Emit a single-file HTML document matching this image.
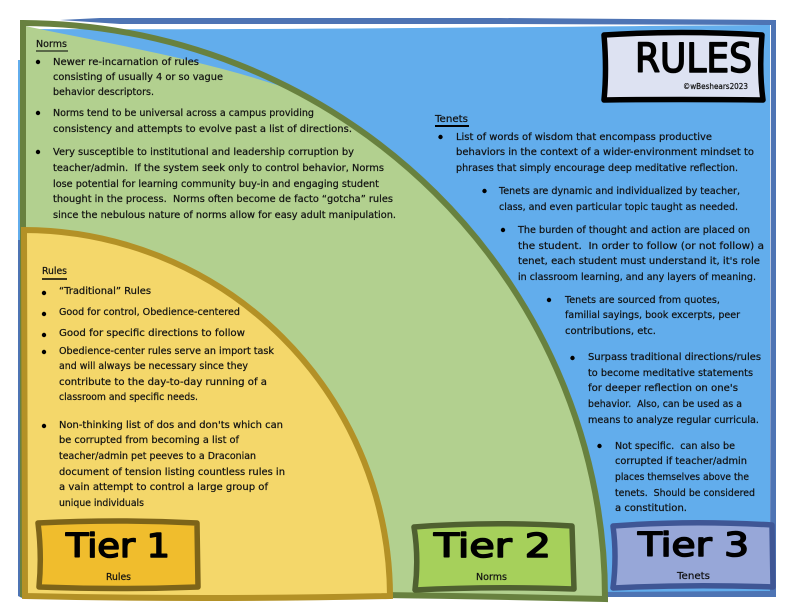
<!DOCTYPE html>
<html><head><meta charset="utf-8"><style>
html,body{margin:0;padding:0;background:#fff;width:792px;height:612px;overflow:hidden}
svg{display:block}
.t{font-family:"DejaVu Sans",sans-serif;font-size:10px;fill:#111;stroke:#111;stroke-width:.22px}
.h{font-family:"DejaVu Sans",sans-serif;fill:#000;stroke:#000;stroke-width:1.6px;stroke-linejoin:round}
</style></head><body>
<svg width="792" height="612" viewBox="0 0 792 612" xmlns="http://www.w3.org/2000/svg">
<!-- blue frame -->
<path d="M24 29 C300 30 500 27 770 25 L770 592 L22 592 Z" fill="#62adec"/>
<path d="M60 20 L100 18 L500 18 L776 20 L776 597 L600 597 L600 592 L770 591 L771 25 L500 24 L120 24 Z" fill="#4e74b4"/>
<path d="M18 240 L22 240 L23 592 L150 594 L600 592 L600 597 L22 598 L18 596 Z" fill="#4e74b4"/>
<path d="M18 60 L23 60 L23 240 L18 240 Z" fill="#62adec"/>
<!-- green -->
<path d="M25 26 C100 42 210 60 300 93 A585 575 0 0 1 510 281 Q552 340 578 420 A585 575 0 0 1 603 598 L24 594 Z" fill="#b2d08f"/>
<path d="M23 23 A585 575 0 0 1 605 599 Q300 592 23 594 Z" fill="none" stroke="#68813f" stroke-width="6" stroke-linejoin="miter"/>
<!-- yellow -->
<path d="M24 230 A367 367 0 0 1 390 596 Q200 600 25 596 Z" fill="#f4d76a" stroke="#b39126" stroke-width="6" stroke-linejoin="miter"/>
<!-- rules box -->
<path d="M604 35 Q680 30 762 35 Q759 70 763 100 Q680 99 604 100 Q607 70 604 35 Z" fill="#dde2f2" stroke="#000" stroke-width="5.5" stroke-linejoin="round"/>
<text class="h" x="635" y="72" font-size="40" textLength="117" lengthAdjust="spacingAndGlyphs">RULES</text>
<text class="t" x="683" y="89" style="font-size:7.5px" textLength="65" lengthAdjust="spacingAndGlyphs">©wBeshears2023</text>
<!-- tier boxes -->
<path d="M38 523 Q118 519 197 523 L198 587 Q120 590 39 587 Q42 555 38 523 Z" fill="#f0bd2d" stroke="#7d6419" stroke-width="5.5" stroke-linejoin="round"/>
<text class="h" x="66" y="557" font-size="33" textLength="104" lengthAdjust="spacingAndGlyphs">Tier 1</text>
<text class="t" x="106" y="580" textLength="25" lengthAdjust="spacingAndGlyphs">Rules</text>
<path d="M414 527 Q490 521 572 526 L574 589 Q490 586 415 590 Q419 558 414 527 Z" fill="#a6d05b" stroke="#4f6030" stroke-width="5.5" stroke-linejoin="round"/>
<text class="h" x="434" y="557" font-size="33" textLength="117" lengthAdjust="spacingAndGlyphs">Tier 2</text>
<text class="t" x="476" y="580" textLength="31" lengthAdjust="spacingAndGlyphs">Norms</text>
<path d="M613 526 Q690 520 772 525 L773 587 Q690 584 613 588 Q617 556 613 526 Z" fill="#97a7d8" stroke="#3f5695" stroke-width="5.5" stroke-linejoin="round"/>
<text class="h" x="638" y="556" font-size="33" textLength="111" lengthAdjust="spacingAndGlyphs">Tier 3</text>
<text class="t" x="677" y="579" textLength="33" lengthAdjust="spacingAndGlyphs">Tenets</text>
<!-- underlines -->
<g stroke="#000"><line x1="36" y1="51" x2="68" y2="51" stroke-width="1"/><line x1="435" y1="126" x2="469" y2="126" stroke-width="2"/><line x1="42" y1="279" x2="67" y2="279" stroke-width="1.5"/></g>
<!-- bullets -->
<g fill="#000">
<circle cx="38" cy="62" r="2.2"/><circle cx="38" cy="113" r="2.2"/><circle cx="38" cy="152" r="2.2"/>
<circle cx="440.5" cy="137" r="2.2"/><circle cx="484.5" cy="191" r="2.2"/><circle cx="503" cy="230" r="2.2"/><circle cx="549" cy="300" r="2.2"/><circle cx="572.5" cy="358" r="2.2"/><circle cx="599.5" cy="446" r="2.2"/>
<circle cx="44" cy="293" r="2.2"/><circle cx="44" cy="314" r="2.2"/><circle cx="44" cy="335" r="2.2"/><circle cx="44" cy="352" r="2.2"/><circle cx="44" cy="426" r="2.2"/>
</g>
<g class="t">
<text x="36" y="47" textLength="31" lengthAdjust="spacingAndGlyphs">Norms</text>
<text x="53" y="65" textLength="146" lengthAdjust="spacingAndGlyphs">Newer re-incarnation of rules</text>
<text x="53" y="80" textLength="170" lengthAdjust="spacingAndGlyphs">consisting of usually 4 or so vague</text>
<text x="53" y="95" textLength="101" lengthAdjust="spacingAndGlyphs">behavior descriptors.</text>
<text x="53" y="116" textLength="261" lengthAdjust="spacingAndGlyphs">Norms tend to be universal across a campus providing</text>
<text x="53" y="132" textLength="299" lengthAdjust="spacingAndGlyphs">consistency and attempts to evolve past a list of directions.</text>
<text x="53" y="155" textLength="301" lengthAdjust="spacingAndGlyphs">Very susceptible to institutional and leadership corruption by</text>
<text x="53" y="171" textLength="331" lengthAdjust="spacingAndGlyphs" xml:space="preserve">teacher/admin.  If the system seek only to control behavior, Norms</text>
<text x="53" y="187" textLength="326" lengthAdjust="spacingAndGlyphs">lose potential for learning community buy-in and engaging student</text>
<text x="53" y="202" textLength="340" lengthAdjust="spacingAndGlyphs" xml:space="preserve">thought in the process.  Norms often become de facto “gotcha” rules</text>
<text x="53" y="218" textLength="343" lengthAdjust="spacingAndGlyphs">since the nebulous nature of norms allow for easy adult manipulation.</text>

<text x="435" y="122" textLength="33" lengthAdjust="spacingAndGlyphs">Tenets</text>
<text x="456" y="140" textLength="256" lengthAdjust="spacingAndGlyphs">List of words of wisdom that encompass productive</text>
<text x="456" y="155" textLength="298" lengthAdjust="spacingAndGlyphs">behaviors in the context of a wider-environment mindset to</text>
<text x="456" y="171" textLength="282" lengthAdjust="spacingAndGlyphs">phrases that simply encourage deep meditative reflection.</text>
<text x="499" y="194" textLength="241" lengthAdjust="spacingAndGlyphs">Tenets are dynamic and individualized by teacher,</text>
<text x="499" y="210" textLength="239" lengthAdjust="spacingAndGlyphs">class, and even particular topic taught as needed.</text>
<text x="518" y="233" textLength="232" lengthAdjust="spacingAndGlyphs">The burden of thought and action are placed on</text>
<text x="518" y="249" textLength="246" lengthAdjust="spacingAndGlyphs" xml:space="preserve">the student.  In order to follow (or not follow) a</text>
<text x="518" y="264" textLength="242" lengthAdjust="spacingAndGlyphs">tenet, each student must understand it, it's role</text>
<text x="518" y="280" textLength="238" lengthAdjust="spacingAndGlyphs">in classroom learning, and any layers of meaning.</text>
<text x="565" y="303" textLength="155" lengthAdjust="spacingAndGlyphs">Tenets are sourced from quotes,</text>
<text x="565" y="318" textLength="175" lengthAdjust="spacingAndGlyphs">familial sayings, book excerpts, peer</text>
<text x="565" y="334" textLength="91" lengthAdjust="spacingAndGlyphs">contributions, etc.</text>
<text x="588" y="360" textLength="173" lengthAdjust="spacingAndGlyphs">Surpass traditional directions/rules</text>
<text x="588" y="376" textLength="165" lengthAdjust="spacingAndGlyphs">to become meditative statements</text>
<text x="588" y="391" textLength="150" lengthAdjust="spacingAndGlyphs">for deeper reflection on one's</text>
<text x="588" y="407" textLength="154" lengthAdjust="spacingAndGlyphs" xml:space="preserve">behavior.  Also, can be used as a</text>
<text x="588" y="423" textLength="171" lengthAdjust="spacingAndGlyphs">means to analyze regular curricula.</text>
<text x="615" y="449" textLength="120" lengthAdjust="spacingAndGlyphs" xml:space="preserve">Not specific.  can also be</text>
<text x="615" y="464" textLength="132" lengthAdjust="spacingAndGlyphs">corrupted if teacher/admin</text>
<text x="615" y="480" textLength="134" lengthAdjust="spacingAndGlyphs">places themselves above the</text>
<text x="615" y="496" textLength="140" lengthAdjust="spacingAndGlyphs" xml:space="preserve">tenets.  Should be considered</text>
<text x="615" y="511" textLength="72" lengthAdjust="spacingAndGlyphs">a constitution.</text>

<text x="42" y="274" textLength="25" lengthAdjust="spacingAndGlyphs">Rules</text>
<text x="59" y="294" textLength="92" lengthAdjust="spacingAndGlyphs">“Traditional” Rules</text>
<text x="59" y="315" textLength="181" lengthAdjust="spacingAndGlyphs">Good for control, Obedience-centered</text>
<text x="59" y="336" textLength="186" lengthAdjust="spacingAndGlyphs">Good for specific directions to follow</text>
<text x="59" y="354" textLength="215" lengthAdjust="spacingAndGlyphs">Obedience-center rules serve an import task</text>
<text x="59" y="369" textLength="189" lengthAdjust="spacingAndGlyphs">and will always be necessary since they</text>
<text x="59" y="385" textLength="208" lengthAdjust="spacingAndGlyphs">contribute to the day-to-day running of a</text>
<text x="59" y="400" textLength="139" lengthAdjust="spacingAndGlyphs">classroom and specific needs.</text>
<text x="59" y="428" textLength="224" lengthAdjust="spacingAndGlyphs">Non-thinking list of dos and don'ts which can</text>
<text x="59" y="443" textLength="180" lengthAdjust="spacingAndGlyphs">be corrupted from becoming a list of</text>
<text x="59" y="459" textLength="197" lengthAdjust="spacingAndGlyphs">teacher/admin pet peeves to a Draconian</text>
<text x="59" y="475" textLength="226" lengthAdjust="spacingAndGlyphs">document of tension listing countless rules in</text>
<text x="59" y="490" textLength="209" lengthAdjust="spacingAndGlyphs">a vain attempt to control a large group of</text>
<text x="59" y="506" textLength="85" lengthAdjust="spacingAndGlyphs">unique individuals</text>
</g>
</svg>
</body></html>
